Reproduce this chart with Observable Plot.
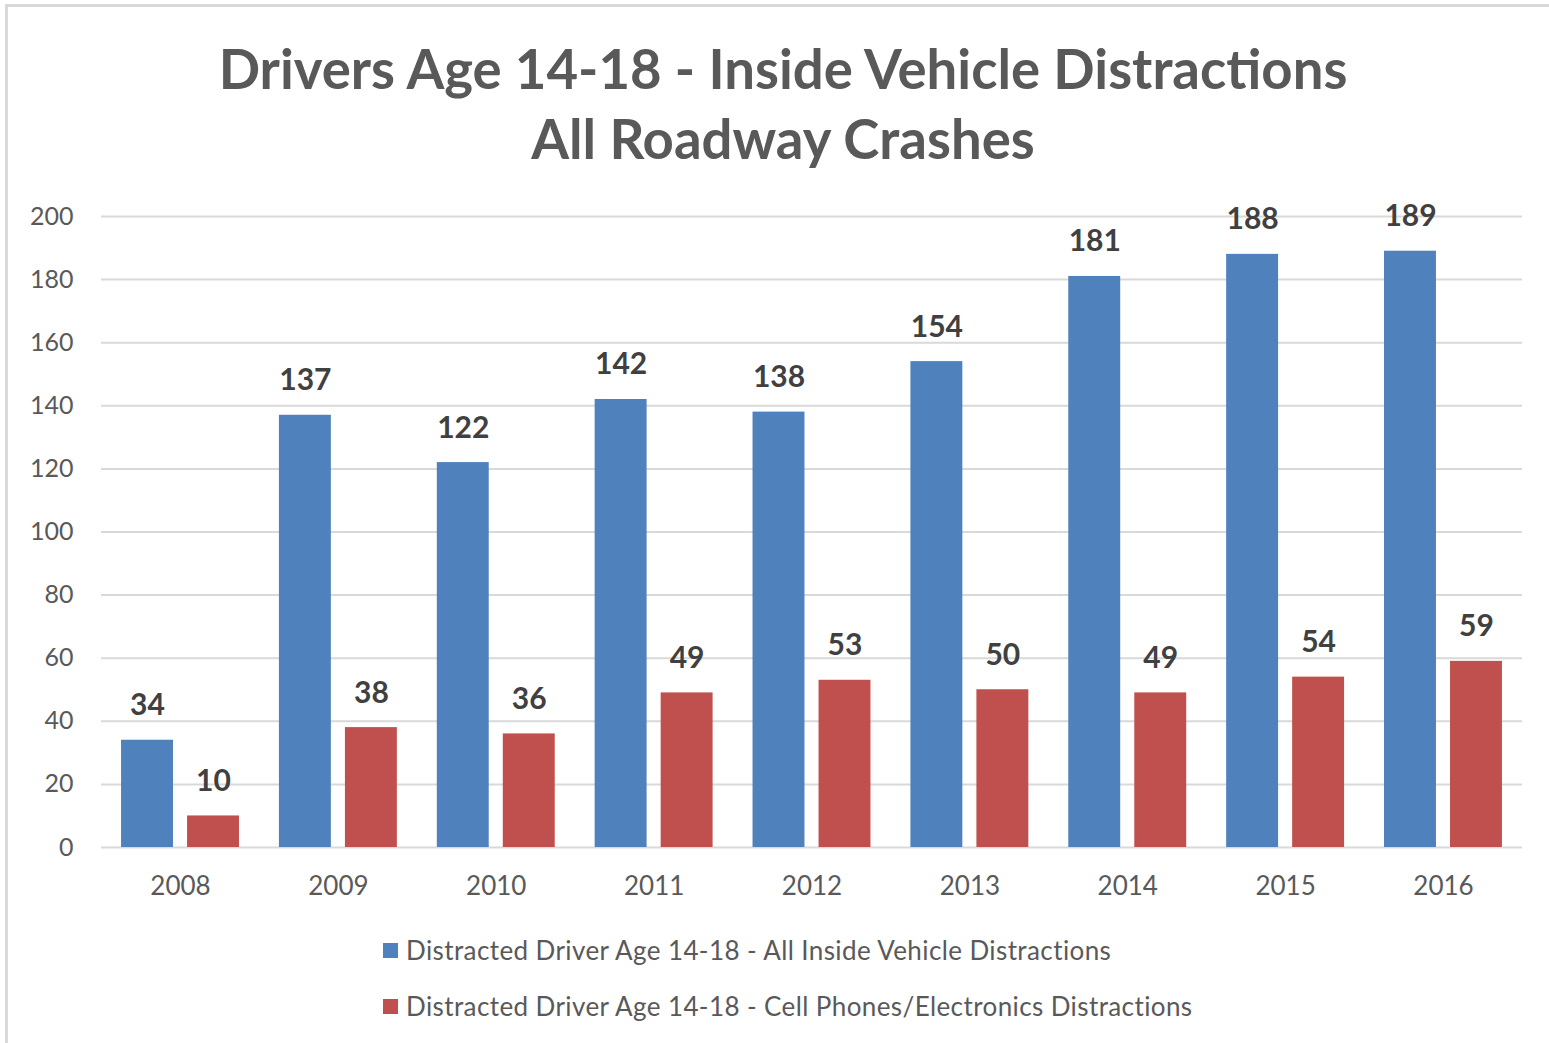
<!DOCTYPE html>
<html>
<head>
<meta charset="utf-8">
<script src="https://cdn.jsdelivr.net/npm/d3@7"></script>
<script src="https://cdn.jsdelivr.net/npm/@observablehq/plot@0.6"></script>
<style>
  html, body { margin: 0; padding: 0; background: #fff; }
  body { width: 1549px; height: 1043px; position: relative; overflow: hidden; font-family: Lato, "Open Sans", sans-serif; }
  #frame { position: absolute; left: 5px; top: 4px; width: 1560px; height: 1060px; border-top: 3px solid #d9d9d9; border-left: 3px solid #d9d9d9; box-sizing: border-box; }
  .title { position: absolute; left: 0; width: 1566px; text-align: center; color: #595959; font-weight: 700; font-size: 54.5px; white-space: nowrap; line-height: 1; }
  #chart { position: absolute; left: 0; top: 180px; }
  .legend { position: absolute; left: 383px; font-size: 26px; letter-spacing: 0.4px; color: #595959; white-space: nowrap; line-height: 1; display: flex; align-items: center; }
  .legend .sw { width: 15px; height: 15px; margin-right: 8px; display: inline-block; }
</style>
</head>
<body>
<div id="frame"></div>
<div class="title" id="t1" style="top:41px">Drivers Age 14-18 - Inside Vehicle Distractions</div>
<div class="title" id="t2" style="top:111px">All Roadway Crashes</div>
<div id="chart"></div>
<div class="legend" style="top:937px"><span class="sw" style="background:#4F81BD"></span><span id="l1"></span></div>
<div class="legend" style="top:993px"><span class="sw" style="background:#C0504D"></span><span id="l2"></span></div>
<script>
const years = ["2008", "2009", "2010", "2011", "2012", "2013", "2014", "2015", "2016"];
const allInside = [34, 137, 122, 142, 138, 154, 181, 188, 189];
const cellPhones = [10, 38, 36, 49, 53, 50, 49, 54, 59];
const seriesNames = [
  "Distracted Driver Age 14-18 - All Inside Vehicle Distractions",
  "Distracted Driver Age 14-18 - Cell Phones/Electronics Distractions"
];
const yTicks = [0, 20, 40, 60, 80, 100, 120, 140, 160, 180, 200];
const colors = ["#4F81BD", "#C0504D"];

document.getElementById("l1").textContent = seriesNames[0];
document.getElementById("l2").textContent = seriesNames[1];

const blue = years.map((year, i) => ({year, value: allInside[i]}));
const red = years.map((year, i) => ({year, value: cellPhones[i]}));

const font = "Lato, 'Open Sans', sans-serif";
const chart = Plot.plot({
  width: 1549,
  height: 740,
  marginLeft: 101,
  marginRight: 27,
  marginTop: 36,
  marginBottom: 73,
  style: {fontFamily: font, background: "transparent", overflow: "visible"},
  x: {domain: years, paddingInner: 0.253, paddingOuter: 0.127, round: false, label: null},
  y: {domain: [0, 200], label: null},
  marks: [
    Plot.gridY(yTicks, {stroke: "#d9d9d9", strokeOpacity: 1, strokeWidth: 2}),
    Plot.barY(blue, {x: "year", y: "value", fill: colors[0], insetRight: 66, insetLeft: 0}),
    Plot.barY(red, {x: "year", y: "value", fill: colors[1], insetLeft: 66, insetRight: 0}),
    Plot.text(blue, {x: "year", y: "value", text: d => String(d.value), dx: -33, dy: -25, lineAnchor: "bottom", fill: "#404040", fontWeight: "bold", fontSize: 30}),
    Plot.text(red, {x: "year", y: "value", text: d => String(d.value), dx: 33, dy: -25, lineAnchor: "bottom", fill: "#404040", fontWeight: "bold", fontSize: 30}),
    Plot.axisY(yTicks, {tickSize: 0, tickPadding: 28, fontSize: 25, fill: "#595959", label: null}),
    Plot.axisX({tickSize: 0, tickPadding: 29, fontSize: 26, fill: "#595959", label: null})
  ]
});
document.getElementById("chart").appendChild(chart);
</script>
</body>
</html>
